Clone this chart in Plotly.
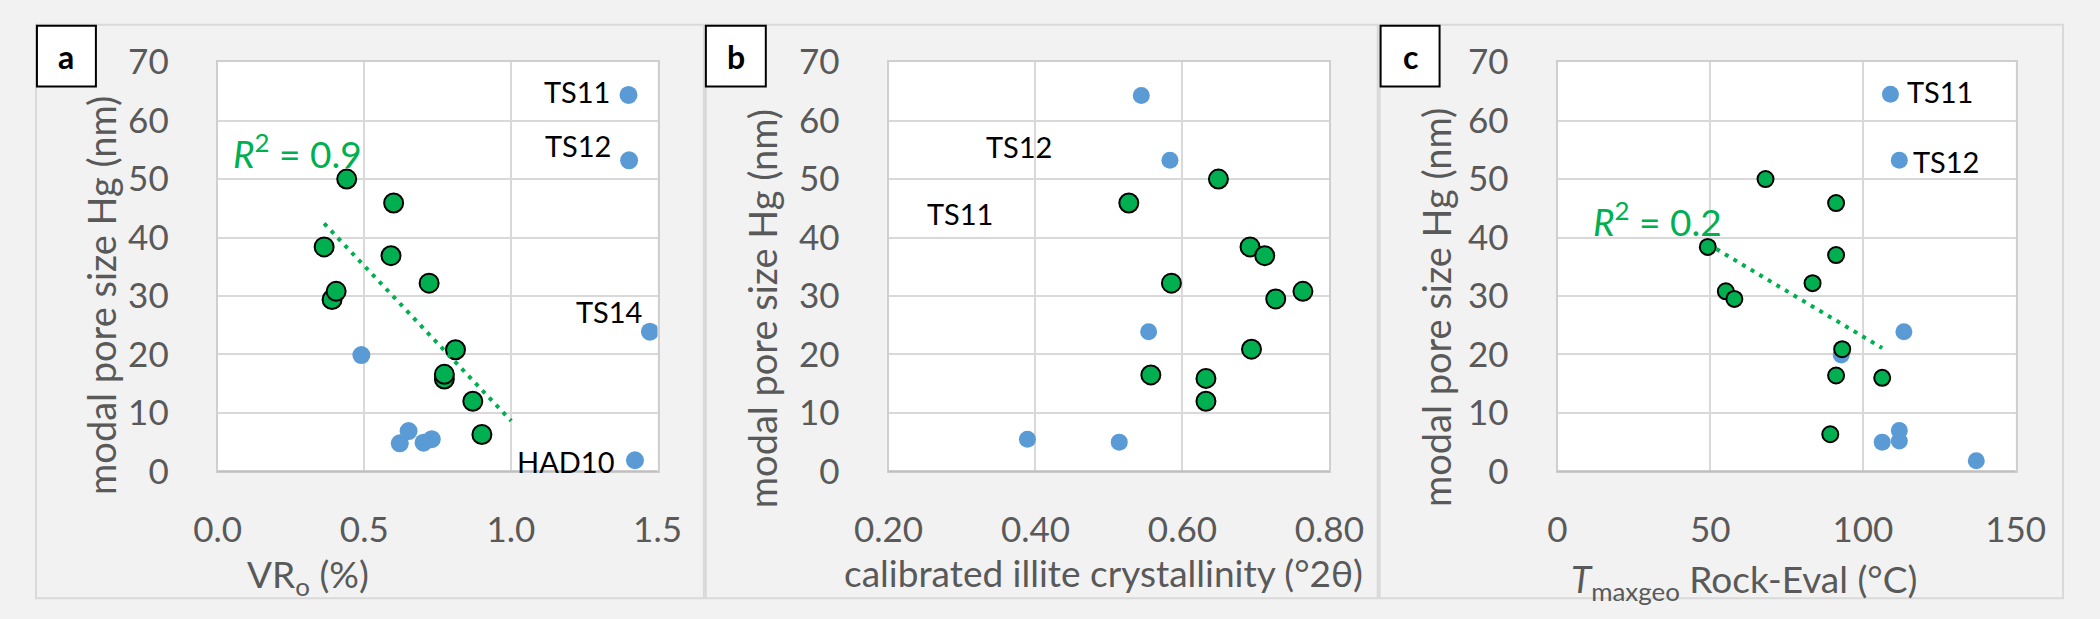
import numpy as np
import plotly.graph_objects as go

W, H = 2100, 619

# ---------------- data ----------------
# panel a: VRo (%)
a_blue_x = [1.401, 1.403, 1.474, 1.423, 0.490, 0.651, 0.621, 0.702, 0.730]
a_blue_y = [64.4, 53.2, 23.9, 1.9, 19.9, 6.9, 4.8, 4.9, 5.5]
a_green_x = [0.440, 0.600, 0.363, 0.591, 0.721, 0.390, 0.404, 0.811, 0.773, 0.773, 0.870, 0.901]
a_green_y = [50.0, 45.9, 38.4, 36.9, 32.2, 29.4, 30.8, 20.8, 15.8, 16.6, 12.0, 6.3]
a_labels = ["TS11", "TS12", "TS14", "HAD10"]
a_label_x = [1.344, 1.347, 1.453, 1.357]
a_label_y = [65.0, 55.7, 27.3, 1.7]
a_r2 = "<i>R</i><sup>2</sup> = 0.9"
a_r2_pos = [0.046, 54.8]
a_forecast = 0.1

# panel b: calibrated illite crystallinity
b_blue_x = [0.544, 0.583, 0.554, 0.389, 0.514]
b_blue_y = [64.3, 53.2, 23.9, 5.5, 5.0]
b_green_x = [0.649, 0.527, 0.692, 0.712, 0.585, 0.764, 0.727, 0.694, 0.557, 0.632, 0.632]
b_green_y = [50.0, 45.9, 38.4, 36.9, 32.2, 30.8, 29.5, 20.9, 16.5, 15.9, 12.0]
b_labels = ["TS12", "TS11"]
b_label_x = [0.378, 0.297]
b_label_y = [55.5, 44.1]

# panel c: Tmaxgeo Rock-Eval
c_blue_x = [109.0, 111.9, 113.4, 92.9, 106.3, 111.9, 111.9, 137.1]
c_blue_y = [64.5, 53.2, 23.9, 19.9, 5.0, 7.0, 5.2, 1.8]
c_green_x = [68.1, 91.2, 49.2, 91.2, 83.5, 55.1, 57.9, 93.2, 91.2, 106.3, 89.3]
c_green_y = [50.0, 45.9, 38.4, 37.0, 32.2, 30.8, 29.5, 20.9, 16.4, 16.0, 6.35]
c_labels = ["TS11", "TS12"]
c_label_x = [113.6, 115.7]
c_label_y = [65.0, 53.0]
c_r2 = "<i>R</i><sup>2</sup> = 0.2"
c_r2_pos = [11.0, 43.2]
c_forecast = 0.0

y_ticks = [0, 10, 20, 30, 40, 50, 60, 70]
a_ticks = [0.0, 0.5, 1.0, 1.5]
b_ticks = [0.20, 0.40, 0.60, 0.80]
c_ticks = [0, 50, 100, 150]

panel_letters = ["a", "b", "c"]
y_title = "modal pore size Hg (nm)"
x_titles = ["VR<sub>o</sub> (%)",
            "calibrated illite crystallinity (°2θ)",
            "<i>T</i><sub>maxgeo</sub> Rock-Eval (°C)"]

# ---------------- style ----------------
FONT = "Lato, Carlito, Calibri, sans-serif"
BLUE = "#5b9bd5"
GREEN = "#00b050"
GRID = "#d9d9d9"
TICKC = "#595959"


def px(x):
    return x / W


def py(y):
    return 1 - y / H


plot_x = [(189, 644), (883, 1339), (1575, 2049)]
plot_y = (42, 481)
frames = [(1, 692), (694, 1389), (1391, 2098)]
boxes = [(2, 63), (694, 756), (1392, 1453)]
ytitle_pos = [(68, 292), (752, 306), (1450, 305)]
xtitle_pos = [(282, 594), (1105, 590), (1768, 599)]

fig = go.Figure()

sizes = [(18, 19), (17, 19), (17, 16)]
data = [
    (a_blue_x, a_blue_y, a_green_x, a_green_y),
    (b_blue_x, b_blue_y, b_green_x, b_green_y),
    (c_blue_x, c_blue_y, c_green_x, c_green_y),
]
for i, (bx, by, gx, gy) in enumerate(data):
    xa = "x" if i == 0 else f"x{i+1}"
    ya = "y" if i == 0 else f"y{i+1}"
    fig.add_trace(go.Scatter(x=bx, y=by, mode="markers", xaxis=xa, yaxis=ya,
                             marker=dict(color=BLUE, size=sizes[i][0], line=dict(width=0)),
                             showlegend=False, hoverinfo="x+y"))
    fig.add_trace(go.Scatter(x=gx, y=gy, mode="markers", xaxis=xa, yaxis=ya,
                             marker=dict(color=GREEN, size=sizes[i][1], line=dict(color="black", width=2)),
                             showlegend=False, hoverinfo="x+y"))


def trend(x, y, forecast):
    k, b = np.polyfit(np.array(x), np.array(y), 1)
    xs = np.array([min(x), max(x) + forecast])
    return xs, k * xs + b


for xs_, ys_, fc, xa, ya in [(a_green_x, a_green_y, a_forecast, "x", "y"),
                             (c_green_x, c_green_y, c_forecast, "x3", "y3")]:
    tx, ty = trend(xs_, ys_, fc)
    fig.add_trace(go.Scatter(x=tx, y=ty, mode="lines", xaxis=xa, yaxis=ya,
                             line=dict(color=GREEN, width=4, dash="4px,6px"),
                             showlegend=False, hoverinfo="skip"))

ranges = [[0, 1.5], [0.2, 0.8], [0, 150]]
ticks = [a_ticks, b_ticks, c_ticks]
fmts = [".1f", ".2f", "d"]
layout = {}
for i in range(3):
    sx = "" if i == 0 else str(i + 1)
    layout[f"xaxis{sx}"] = dict(
        domain=[px(plot_x[i][0]), px(plot_x[i][1])], range=ranges[i],
        anchor=f"y{sx}", tickvals=ticks[i], tickformat=fmts[i],
        showgrid=True, gridcolor=GRID, gridwidth=2, zeroline=False,
        showline=True, linecolor="#cfcfcf", linewidth=2, mirror=True,
        ticks="", ticklabelstandoff=27,
        tickfont=dict(family=FONT, size=35, color=TICKC), fixedrange=True)
    layout[f"yaxis{sx}"] = dict(
        domain=[py(plot_y[1]), py(plot_y[0])], range=[0, 70],
        anchor=f"x{sx}", tickvals=y_ticks,
        showgrid=True, gridcolor=GRID, gridwidth=2, zeroline=False,
        showline=True, linecolor="#cfcfcf", linewidth=2, mirror=True,
        ticks="", ticklabelstandoff=40,
        tickfont=dict(family=FONT, size=35, color=TICKC), fixedrange=True)

shapes = []
annotations = []
for i in range(3):
    f0, f1 = frames[i]
    shapes.append(dict(type="rect", xref="paper", yref="paper",
                       x0=px(f0), x1=px(f1), y0=py(617), y1=py(2),
                       line=dict(color=GRID, width=2), fillcolor="rgba(0,0,0,0)", layer="below"))
    # slightly darker bottom axis line, drawn along the x axis
    xa = "x" if i == 0 else f"x{i+1}"
    shapes.append(dict(type="line", xref=f"{xa} domain", yref="paper",
                       x0=0, x1=1, y0=py(plot_y[1]), y1=py(plot_y[1]),
                       line=dict(color="#bfbfbf", width=2)))
    b0, b1 = boxes[i]
    shapes.append(dict(type="rect", xref="paper", yref="paper",
                       x0=px(b0), x1=px(b1), y0=py(68), y1=py(3),
                       line=dict(color="black", width=2), fillcolor="white"))
    annotations.append(dict(text=f"<b>{panel_letters[i]}</b>", xref="paper", yref="paper",
                            x=px((b0 + b1) / 2), y=py(36), showarrow=False,
                            xanchor="center", yanchor="middle",
                            font=dict(family=FONT, size=32, color="black")))
    tx, ty = ytitle_pos[i]
    annotations.append(dict(text=y_title, xref="paper", yref="paper", x=px(tx), y=py(ty),
                            textangle=-90, showarrow=False, xanchor="center", yanchor="middle",
                            font=dict(family=FONT, size=38, color=TICKC)))
    tx, ty = xtitle_pos[i]
    annotations.append(dict(text=x_titles[i], xref="paper", yref="paper", x=px(tx), y=py(ty),
                            showarrow=False, xanchor="center", yanchor="middle",
                            font=dict(family=FONT, size=37, color=TICKC)))

# point labels
for lbl, lx, ly in zip(a_labels, a_label_x, a_label_y):
    annotations.append(dict(text=lbl, x=lx, y=ly, xref="x", yref="y", showarrow=False,
                            xanchor="right", yanchor="middle",
                            font=dict(family=FONT, size=29, color="black")))
for lbl, lx, ly in zip(b_labels, b_label_x, b_label_y):
    annotations.append(dict(text=lbl, x=lx, y=ly, xref="x2", yref="y2", showarrow=False,
                            xanchor="center", yanchor="middle",
                            font=dict(family=FONT, size=29, color="black")))
for lbl, lx, ly in zip(c_labels, c_label_x, c_label_y):
    annotations.append(dict(text=lbl, x=lx, y=ly, xref="x3", yref="y3", showarrow=False,
                            xanchor="left", yanchor="middle",
                            font=dict(family=FONT, size=29, color="black")))
annotations.append(dict(text=a_r2, x=a_r2_pos[0], y=a_r2_pos[1], xref="x", yref="y",
                        showarrow=False, xanchor="left", yanchor="middle",
                        font=dict(family=FONT, size=37, color=GREEN)))
annotations.append(dict(text=c_r2, x=c_r2_pos[0], y=c_r2_pos[1], xref="x3", yref="y3",
                        showarrow=False, xanchor="left", yanchor="middle",
                        font=dict(family=FONT, size=37, color=GREEN)))

fig.update_layout(
    width=W, height=H, margin=dict(l=0, r=0, t=0, b=0),
    paper_bgcolor="#f2f2f2", plot_bgcolor="white",
    shapes=shapes, annotations=annotations, showlegend=False,
    font=dict(family=FONT), **layout)

fig.write_html("out.html", config={"displayModeBar": False})
